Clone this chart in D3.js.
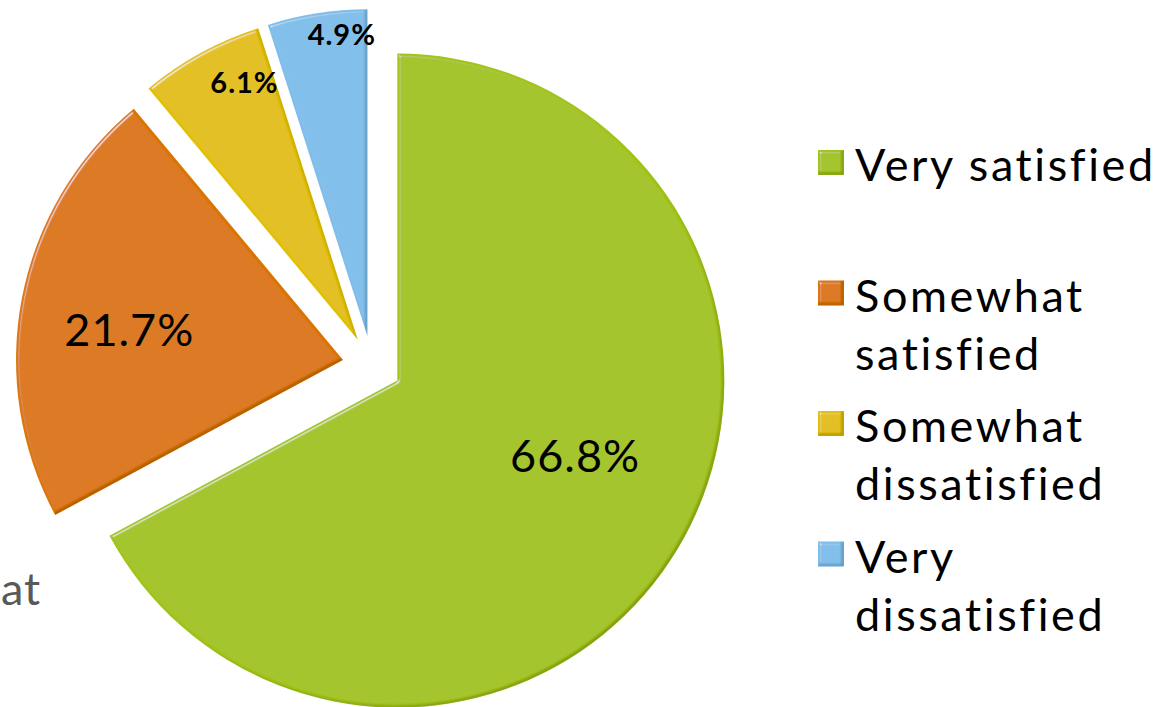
<!DOCTYPE html>
<html>
<head>
<meta charset="utf-8">
<script src="https://cdn.jsdelivr.net/npm/d3@7/dist/d3.min.js"></script>
<style>
  html, body { margin: 0; padding: 0; background: #fff; }
  svg { display: block; font-family: Lato, 'Open Sans', sans-serif; }
</style>
</head>
<body>
<div id="chart"></div>
<script>
// satisfaction shares, clockwise from 12 o'clock
const categories = ['Very satisfied', 'Somewhat satisfied', 'Somewhat dissatisfied', 'Very dissatisfied']
const values = [66.8, 21.7, 6.1, 4.9]
const labels = ['66.8%', '21.7%', '6.1%', '4.9%']
const legendLines = [['Very satisfied'], ['Somewhat', 'satisfied'], ['Somewhat', 'dissatisfied'], ['Very', 'dissatisfied']]
const colors = ['#a2c41d', '#dc760a', '#e2c00e', '#7fbeea']

const width = 1173
const height = 707
const cx = 372
const cy = 365.5
const radius = 327
const explode = 29.5
// label placement relative to each slice: fraction of radius, angle shift (deg)
const labelR = [0.59, 0.66, 0.86, 0.925]
const labelShift = [-8, -3, 5, 4]
const labelSize = [45, 45, 29, 29]
const labelWeight = [400, 400, 700, 700]

const svg = d3.select('#chart')
  .append('svg')
  .attr('width', width)
  .attr('height', height)

const defs = svg.append('defs')
const bevel = defs.append('filter')
  .attr('id', 'bevel')
  .attr('x', '-5%').attr('y', '-5%')
  .attr('width', '110%').attr('height', '110%')
bevel.append('feGaussianBlur')
  .attr('in', 'SourceAlpha').attr('stdDeviation', 1.6).attr('result', 'blur')
const spec = bevel.append('feSpecularLighting')
  .attr('in', 'blur').attr('surfaceScale', 3)
  .attr('specularConstant', 0.7).attr('specularExponent', 30)
  .attr('lighting-color', '#ffffff').attr('result', 'spec')
spec.append('feDistantLight').attr('azimuth', 225).attr('elevation', 35)
bevel.append('feComposite')
  .attr('in', 'spec').attr('in2', 'SourceAlpha').attr('operator', 'in').attr('result', 'specIn')
// dark rim on the lower-right edges
bevel.append('feOffset')
  .attr('in', 'SourceAlpha').attr('dx', -2.5).attr('dy', -2.5).attr('result', 'shift')
bevel.append('feComposite')
  .attr('in', 'SourceAlpha').attr('in2', 'shift').attr('operator', 'out').attr('result', 'rim')
bevel.append('feGaussianBlur')
  .attr('in', 'rim').attr('stdDeviation', 1).attr('result', 'rimBlur')
bevel.append('feFlood').attr('flood-color', '#000').attr('flood-opacity', 0.45).attr('result', 'dark')
bevel.append('feComposite')
  .attr('in', 'dark').attr('in2', 'rimBlur').attr('operator', 'in').attr('result', 'darkRim')
bevel.append('feComposite')
  .attr('in', 'darkRim').attr('in2', 'SourceAlpha').attr('operator', 'in').attr('result', 'darkIn')
const merge = bevel.append('feMerge')
merge.append('feMergeNode').attr('in', 'SourceGraphic')
merge.append('feMergeNode').attr('in', 'darkIn')
merge.append('feMergeNode').attr('in', 'specIn')

const pie = d3.pie().sort(null).value(d => d)
const arcs = pie(values)
const arc = d3.arc().innerRadius(0).outerRadius(radius)

const mid = d => (d.startAngle + d.endAngle) / 2

const slices = svg.append('g')
  .attr('transform', `translate(${cx},${cy})`)
  .selectAll('g')
  .data(arcs)
  .enter().append('g')
    .attr('transform', d => `translate(${explode * Math.sin(mid(d))},${-explode * Math.cos(mid(d))})`)

slices.append('path')
  .attr('d', arc)
  .attr('fill', (d, i) => colors[i])
  .attr('filter', 'url(#bevel)')

slices.append('text')
  .attr('x', (d, i) => labelR[i] * radius * Math.sin(mid(d) + labelShift[i] * Math.PI / 180))
  .attr('y', (d, i) => -labelR[i] * radius * Math.cos(mid(d) + labelShift[i] * Math.PI / 180))
  .attr('dy', '0.36em')
  .attr('text-anchor', 'middle')
  .style('font-size', (d, i) => labelSize[i] + 'px')
  .style('font-weight', (d, i) => labelWeight[i])
  .style('letter-spacing', '1px')
  .attr('fill', '#000')
  .text((d, i) => labels[i])

// legend
const legendY = d3.scaleLinear().domain([0, 3]).range([181, 572.5])
const legend = svg.append('g')
  .selectAll('g')
  .data(categories)
  .enter().append('g')
    .attr('transform', (d, i) => `translate(0,${legendY(i)})`)

legend.append('rect')
  .attr('x', 818).attr('y', -31)
  .attr('width', 26).attr('height', 25)
  .attr('fill', (d, i) => colors[i])
  .attr('filter', 'url(#bevel)')

legend.append('text')
  .attr('x', 855)
  .attr('fill', '#000')
  .style('font-size', '45px')
  .style('letter-spacing', '2.6px')
  .selectAll('tspan')
  .data((d, i) => legendLines[i])
  .enter().append('tspan')
    .attr('x', 855)
    .attr('y', (d, j) => j * 58)
    .text(d => d)

// text left over at the left edge
svg.append('text')
  .attr('x', 1).attr('y', 605)
  .attr('fill', '#595959')
  .style('font-size', '45px')
  .style('letter-spacing', '1px')
  .text('at')
</script>
</body>
</html>
